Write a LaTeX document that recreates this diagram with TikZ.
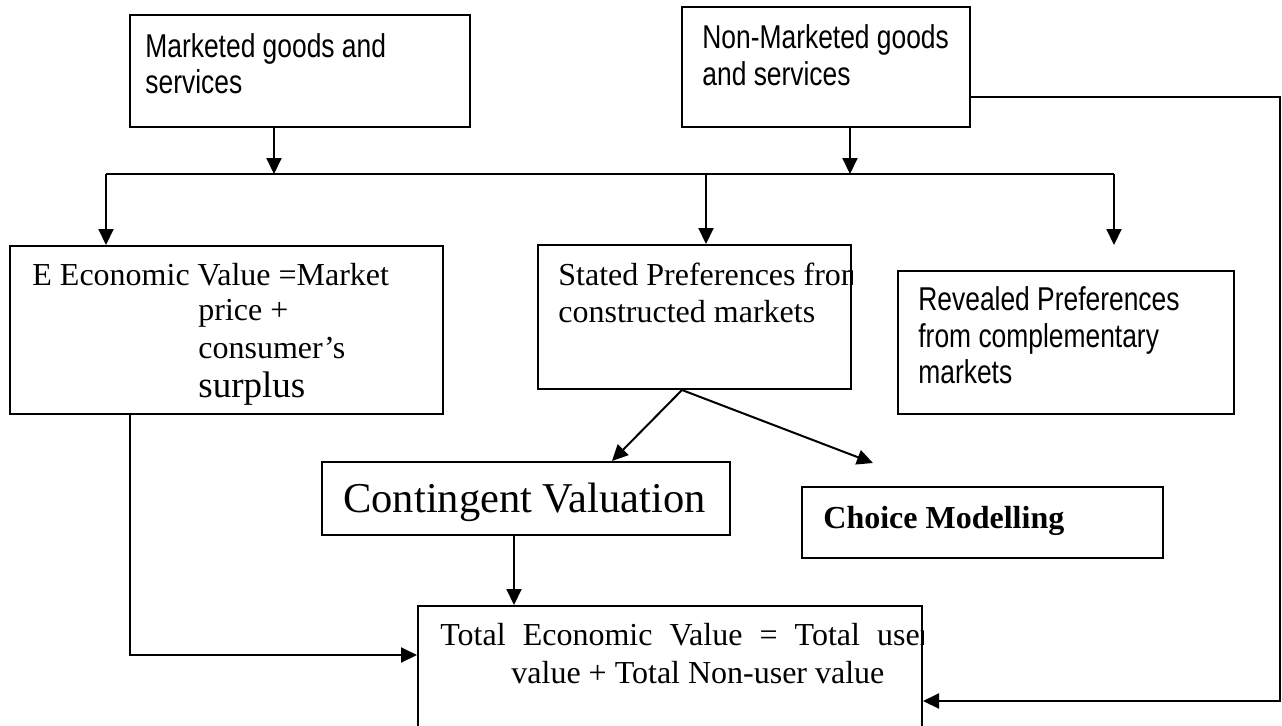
\documentclass[tikz,border=0pt]{standalone}
\usepackage{fontspec}
\setmainfont{Liberation Serif}
\newfontfamily\narrowsans[FakeStretch=0.8]{Liberation Sans}
\usetikzlibrary{arrows.meta,fit}
\begin{document}
\begin{tikzpicture}[x=0.5pt,y=-0.5pt,
  box/.style={draw, line width=1pt, rectangle, inner sep=0pt},
  txt/.style={inner sep=0pt, anchor=base west},
  conn/.style={line width=1pt, -{Triangle[length=8pt,width=7.5pt]}},
  plain/.style={line width=1pt},
  sansf/.style={font=\narrowsans\fontsize{16.5}{18.5}\selectfont},
  seriff/.style={font=\fontsize{16}{18.5}\selectfont}]
\useasboundingbox (0,0) rectangle (1282,725);

% boxes
\node[box, fit={(130,15) (470,127)}] (m) {};
\node[box, fit={(682,7) (970,127)}] (n) {};
\node[box, fit={(10,246) (443,414)}] (ev) {};
\node[box, fit={(538,245) (851,389)}] (sp) {};
\node[box, fit={(898,271) (1234,414)}] (rp) {};
\node[box, fit={(322,462) (730,535)}] (cv) {};
\node[box, fit={(802,487) (1163,558)}] (cm) {};
\node[box, fit={(418,606) (922,760)}] (tev) {};

% texts
\node[txt, sansf] (m1) at (145,57) {Marketed goods and};
\node[txt, sansf] (m2) at (145,93) {services};
\node[txt, sansf] (n1) at (702,48) {Non-Marketed goods};
\node[txt, sansf] (n2) at (702,85) {and services};
\node[txt, seriff] (e1) at (32,285) {E Economic Value =Market};
\node[txt, seriff] (e2) at (198,320) {price +};
\node[txt, seriff] (e3) at (198,358) {consumer’s};
\node[txt, font=\fontsize{18.5}{20}\selectfont] (e4) at (198,397) {surplus};
\begin{scope}
  \clip (sp.south west) rectangle (sp.north east);
  \node[txt, seriff] (s1) at (558,285) {Stated Preferences from};
\end{scope}
\node[txt, seriff] (s2) at (558,322) {constructed markets};
\node[txt, sansf] (r1) at (918,310) {Revealed Preferences};
\node[txt, sansf] (r2) at (918,347) {from complementary};
\node[txt, sansf] (r3) at (918,383) {markets};
\node[txt, font=\fontsize{21.25}{24}\selectfont] (c1) at (343,512) {Contingent Valuation};
\node[txt, seriff] (cm1) at (823,528) {\textbf{Choice Modelling}};
\begin{scope}
  \clip (tev.south west) rectangle (tev.north east);
  \node[txt, seriff] (t1) at (440,645) {\makebox[245pt][s]{Total Economic Value = Total user}};
\end{scope}
\node[txt, seriff] (t2) at (511,683) {value + Total Non-user value};

% connector coordinates
\coordinate (busL) at (106,174);
\coordinate (busR) at (1114,174);
\coordinate (mj) at (274,174);
\coordinate (nj) at (850,174);
\coordinate (spj) at (706,174);
\coordinate (rpend) at (1114,245);
\coordinate (loopT) at (1280,97);
\coordinate (loopB) at (1280,701);
\coordinate (evb) at (130,655);
\coordinate (spo) at (682,0);
\coordinate (cvin) at (612,0);
\coordinate (cmend) at (873,463);
\coordinate (cvx) at (514,0);

% connectors
\draw[conn] (m.south -| mj) -- (mj);
\draw[conn] (n.south -| nj) -- (nj);
\draw[plain] (busL) -- (busR);
\draw[conn] (busL) -- (busL |- ev.north);
\draw[conn] (spj) -- (spj |- sp.north);
\draw[conn] (busR) -- (rpend);
\draw[conn] (n.east |- loopT) -- (loopT) -- (loopB) -- (tev.east |- loopB);
\draw[conn] (ev.south -| evb) -- (evb) -- (tev.west |- evb);
\draw[conn] (sp.south -| spo) -- (cv.north -| cvin);
\draw[conn] (sp.south -| spo) -- (cmend);
\draw[conn] (cv.south -| cvx) -- (tev.north -| cvx);
\end{tikzpicture}
\end{document}
